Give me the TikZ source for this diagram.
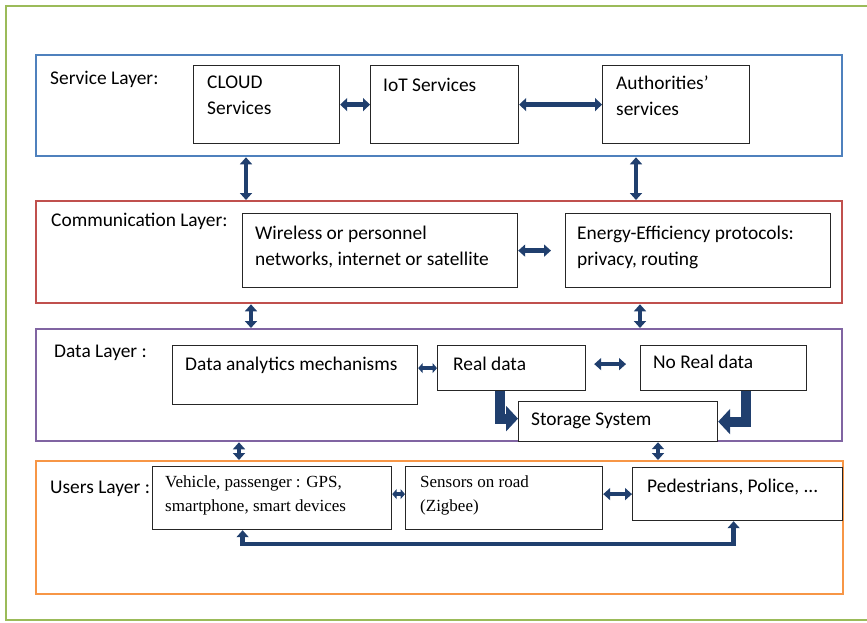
\documentclass[tikz,border=0pt]{standalone}
\usepackage{fontspec}
\setmainfont{Carlito}
\newfontfamily\serifface{Liberation Serif}
\usetikzlibrary{arrows.meta,calc}

\definecolor{navy}{HTML}{203F6E}
\definecolor{svcblue}{HTML}{4F81BD}
\definecolor{comred}{HTML}{C0504D}
\definecolor{datpurple}{HTML}{8064A2}
\definecolor{usrorange}{HTML}{F79646}
\definecolor{framegreen}{HTML}{9BBB59}

\newcommand\firstline{\rule{0pt}{15pt}}
\newcommand\firstlineserif{\rule{0pt}{14pt}}

\begin{document}
\begin{tikzpicture}[x=1pt,y=-1pt,
  layer/.style={draw, line width=2.3pt, fill=none, inner sep=0pt, anchor=north west},
  cell/.style={draw=black!85, line width=1.2pt, fill=white, inner sep=0pt, anchor=north west},
  txt/.style={anchor=north west, inner sep=0pt, align=left,
    font=\fontsize{19.4}{26}\selectfont, execute at begin node=\firstline},
  sertxt/.style={anchor=north west, inner sep=0pt, align=left,
    font=\serifface\fontsize{17}{24}\selectfont, execute at begin node=\firstlineserif},
  link/.style={draw=navy, line width=4.5pt,
    {Triangle[width=12pt,length=7pt]}-{Triangle[width=12pt,length=7pt]}},
  shortlink/.style={draw=navy, line width=4pt,
    {Triangle[width=10pt,length=4.5pt]}-{Triangle[width=10pt,length=4.5pt]}},
  widelink/.style={draw=navy, line width=5pt,
    {Triangle[width=13pt,length=7pt]}-{Triangle[width=13pt,length=7pt]}},
  feed/.style={draw=navy, line width=10pt, line join=miter,
    -{Triangle[width=25pt,length=12pt]}},
]
\useasboundingbox (0,0) rectangle (867,622);

% outer frame, running off the right edge
\begin{scope}
  \clip (0,0) rectangle (867,622);
  \draw[framegreen, line width=2.6pt] (6,6) rectangle (890,620);
\end{scope}

% column positions of the links between layers
\coordinate (colA) at (246,0);
\coordinate (colB) at (636,0);
\coordinate (colC) at (251,0);
\coordinate (colD) at (640,0);
\coordinate (colE) at (239,0);
\coordinate (colF) at (658,0);

% layers
\node[layer, draw=svcblue,   minimum width=806pt, minimum height=101pt] (svc) at (35,54) {};
\node[layer, draw=comred,    minimum width=806pt, minimum height=102pt] (com) at (35,200) {};
\node[layer, draw=datpurple, minimum width=806pt, minimum height=112pt] (dat) at (35,328) {};
\node[layer, draw=usrorange, minimum width=807pt, minimum height=133pt] (usr) at (35,460) {};

% service layer
\node[txt] at (50,69) {Service Layer:};
\node[cell, minimum width=146pt, minimum height=78pt] (cloud) at (193,65) {};
\node[cell, minimum width=148pt, minimum height=78pt] (iot) at (370,65) {};
\node[cell, minimum width=147pt, minimum height=78pt] (auth) at (602,65) {};
\node[txt] at (207,76) {CLOUD\\Services};
\node[txt] at (383,76) {IoT Services};
\node[txt] at (616,76) {Authorities’\\services};

% communication layer
\node[txt] at (51,211) {Communication Layer:};
\node[cell, minimum width=275pt, minimum height=74pt] (wire) at (242,213) {};
\node[cell, minimum width=265pt, minimum height=74pt] (ener) at (565,213) {};
\node[txt] at (255,226) {Wireless or personnel\\networks, internet or satellite};
\node[txt] at (577,226) {Energy-Efficiency protocols:\\privacy, routing};

% data layer
\node[txt] at (54,342) {Data Layer :};
\node[cell, minimum width=245pt, minimum height=59pt] (ana) at (172,345) {};
\node[cell, minimum width=148pt, minimum height=45pt] (real) at (437,345) {};
\node[cell, minimum width=166pt, minimum height=45pt] (nreal) at (640,345) {};
\node[cell, minimum width=199pt, minimum height=40pt] (stor) at (518,401) {};
\node[txt] at (185,355) {Data analytics mechanisms};
\node[txt] at (453,355) {Real data};
\node[txt] at (653,353) {No Real data};
\node[txt] at (531,410) {Storage System};

% users layer
\node[txt] at (50,478) {Users Layer :};
\node[cell, minimum width=239pt, minimum height=63pt] (veh) at (152,466) {};
\node[cell, minimum width=197pt, minimum height=63pt] (sens) at (405,466) {};
\node[cell, minimum width=210pt, minimum height=53pt] (ped) at (632,467) {};
\node[sertxt] at (165,475) {Vehicle, passenger : GPS,\\smartphone, smart devices};
\node[sertxt] at (420,475) {Sensors on road\\(Zigbee)};
\node[txt] at (647,477) {Pedestrians, Police, ...};

% links inside the layers
\draw[widelink] (cloud.east) -- (iot.west);
\draw[widelink] (iot.east) -- (auth.west);
\draw[link, shorten >=14pt] (wire.east) -- (ener.west);
\draw[shortlink] (real.west -| ana.east) -- (real.west);
\draw[link, shorten <=8pt, shorten >=14pt] ([yshift=4pt]real.east) -- ([yshift=4pt]nreal.west);
\draw[shortlink] ([yshift=4pt]veh.east) -- ([yshift=4pt]sens.west);
\draw[link] (sens.east |- ped.west) -- (ped.west);
\draw[feed] ([xshift=-11.5pt]real.south) |- ([yshift=3pt]stor.west);
\draw[feed] ([xshift=22pt]nreal.south) |- (stor.east);
\draw[link] ([xshift=-29.5pt]veh.south) -- ++(0,14) -| ([xshift=-4pt]ped.south);

% links between layers
\draw[link] (svc.south -| colA) -- (com.north -| colA);
\draw[link] (svc.south -| colB) -- (com.north -| colB);
\draw[link] (com.south -| colC) -- (dat.north -| colC);
\draw[link] (com.south -| colD) -- (dat.north -| colD);
\draw[link] (dat.south -| colE) -- (usr.north -| colE);
\draw[link] (stor.south -| colF) -- (usr.north -| colF);
\end{tikzpicture}
\end{document}
